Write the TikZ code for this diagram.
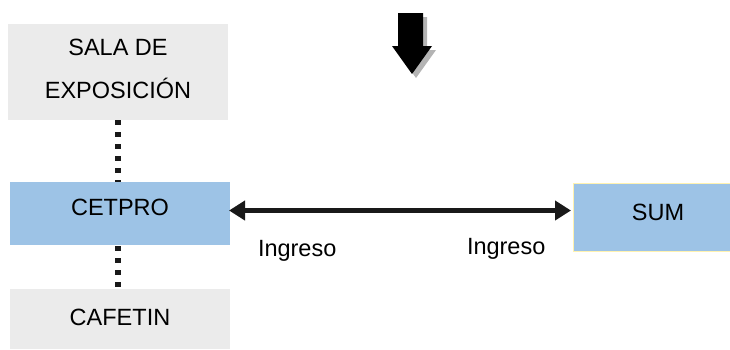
\documentclass[tikz,border=0pt]{standalone}
\usepackage{fontspec}
\setmainfont{Liberation Sans}
\usetikzlibrary{arrows.meta}
\definecolor{boxgray}{HTML}{EBEBEB}
\definecolor{boxblue}{HTML}{9DC3E6}
\definecolor{paleyel}{HTML}{FFF2B0}
\definecolor{shadowgray}{HTML}{B4B4B4}
\tikzset{
  box/.style={inner sep=0pt, outer sep=0pt, minimum width=220pt},
  txt/.style={inner sep=0pt, outer sep=0pt, font=\fontsize{23.5}{28}\selectfont, text=black},
  dots/.style={line width=5.5pt, dash pattern=on 5pt off 7pt, draw=black!90},
  link/.style={line width=5pt, {Triangle[length=16pt,width=19pt]}-{Triangle[length=16pt,width=19pt]}, draw=black!90}
}
\begin{document}
\begin{tikzpicture}[x=1pt,y=-1pt]
\useasboundingbox (0,0) rectangle (730,349);
% boxes
\node[box, fill=boxgray, minimum height=96pt] (sala) at (118,72) {};
\node[box, fill=boxblue, minimum height=63pt] (cetpro) at (120,213.5) {};
\node[box, fill=boxgray, minimum height=60pt] (cafe) at (120,319) {};
\node[box, fill=boxblue, draw=paleyel, line width=0.8pt, minimum width=175pt, minimum height=68pt, anchor=west] (sum) at (573,217) {};
% texts
\node[txt, anchor=base] (salat1) at (118,55) {SALA DE};
\node[txt, anchor=base] (salat2) at (118,98) {EXPOSICIÓN};
\node[txt, anchor=base] (cetprot) at (120,215.5) {CETPRO};
\node[txt, anchor=base] (cafet) at (120,325) {CAFETIN};
\node[txt, anchor=base] (sumt) at (658,220) {SUM};
\node[txt, anchor=base west] (ing1) at (258,256.5) {Ingreso};
\node[txt, anchor=base west] (ing2) at (467,254.5) {Ingreso};
% dotted connectors
\coordinate (d1) at (118,120);
\coordinate (d2) at (118,182);
\coordinate (d3) at (118,246);
\coordinate (d4) at (118,289);
\draw[dots] (d1) -- (d2);
\draw[dots] (d3) -- (d4);
% double arrow
\coordinate (a1) at (229,210.5);
\coordinate (a2) at (571,210.5);
\draw[link] (a1) -- (a2);
% block arrow with shadow
\fill[shadowgray] (402,17) -- (427,17) -- (427,50) -- (436,50) -- (416,78) -- (396,50) -- (402,50) -- cycle;
\fill[black] (398,13) -- (423,13) -- (423,46) -- (432,46) -- (412,74) -- (392,46) -- (398,46) -- cycle;
\end{tikzpicture}
\end{document}
